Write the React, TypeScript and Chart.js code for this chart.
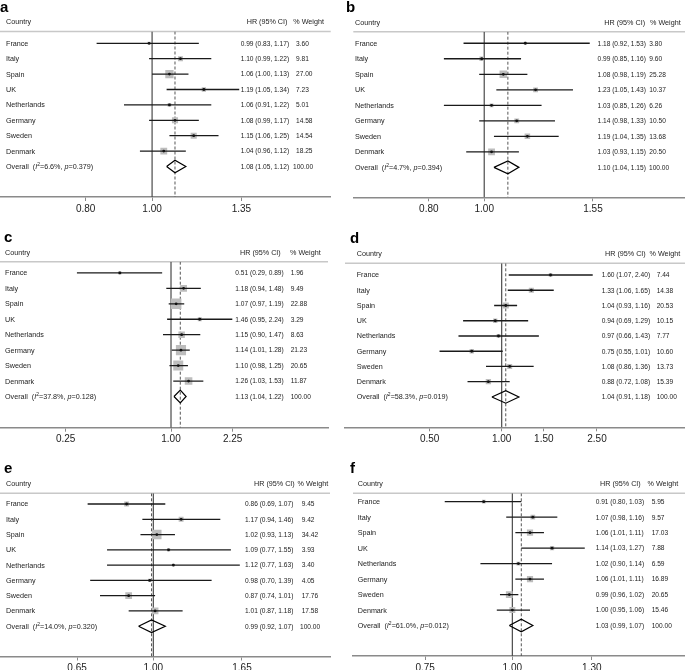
import React, { useEffect, useRef } from "react";
import { Chart, registerables } from "chart.js";

Chart.register(...registerables);

const FONT = "'Liberation Sans', Arial, sans-serif";

const countries = ["France", "Italy", "Spain", "UK", "Netherlands", "Germany", "Sweden", "Denmark"];

// Panel a
const hrA = [0.99, 1.10, 1.06, 1.19, 1.06, 1.08, 1.15, 1.04];
const loA = [0.83, 0.99, 1.00, 1.05, 0.91, 0.99, 1.06, 0.96];
const hiA = [1.17, 1.22, 1.13, 1.34, 1.22, 1.17, 1.25, 1.12];
const wA = [3.60, 9.81, 27.00, 7.23, 5.01, 14.58, 14.54, 18.25];
const overallA = [1.08, 1.05, 1.12];
const hetA = ["6.6%", "0.379"];
const ticksA = [0.80, 1.00, 1.35];

// Panel b
const hrB = [1.18, 0.99, 1.08, 1.23, 1.03, 1.14, 1.19, 1.03];
const loB = [0.92, 0.85, 0.98, 1.05, 0.85, 0.98, 1.04, 0.93];
const hiB = [1.53, 1.16, 1.19, 1.43, 1.26, 1.33, 1.35, 1.15];
const wB = [3.80, 9.60, 25.28, 10.37, 6.26, 10.50, 13.68, 20.50];
const overallB = [1.10, 1.04, 1.15];
const hetB = ["4.7%", "0.394"];
const ticksB = [0.80, 1.00, 1.55];

// Panel c
const hrC = [0.51, 1.18, 1.07, 1.46, 1.15, 1.14, 1.10, 1.26];
const loC = [0.29, 0.94, 0.97, 0.95, 0.90, 1.01, 0.98, 1.03];
const hiC = [0.89, 1.48, 1.19, 2.24, 1.47, 1.28, 1.25, 1.53];
const wC = [1.96, 9.49, 22.88, 3.29, 8.63, 21.23, 20.65, 11.87];
const overallC = [1.13, 1.04, 1.22];
const hetC = ["37.8%", "0.128"];
const ticksC = [0.25, 1.00, 2.25];

// Panel d
const hrD = [1.60, 1.33, 1.04, 0.94, 0.97, 0.75, 1.08, 0.88];
const loD = [1.07, 1.06, 0.93, 0.69, 0.66, 0.55, 0.86, 0.72];
const hiD = [2.40, 1.65, 1.16, 1.29, 1.43, 1.01, 1.36, 1.08];
const wD = [7.44, 14.38, 20.53, 10.15, 7.77, 10.60, 13.73, 15.39];
const overallD = [1.04, 0.91, 1.18];
const hetD = ["58.3%", "0.019"];
const ticksD = [0.50, 1.00, 1.50, 2.50];

// Panel e
const hrE = [0.86, 1.17, 1.02, 1.09, 1.12, 0.98, 0.87, 1.01];
const loE = [0.69, 0.94, 0.93, 0.77, 0.77, 0.70, 0.74, 0.87];
const hiE = [1.07, 1.46, 1.13, 1.55, 1.63, 1.39, 1.01, 1.18];
const wE = [9.45, 9.42, 34.42, 3.93, 3.40, 4.05, 17.76, 17.58];
const overallE = [0.99, 0.92, 1.07];
const hetE = ["14.0%", "0.320"];
const ticksE = [0.65, 1.00, 1.65];

// Panel f
const hrF = [0.91, 1.07, 1.06, 1.14, 1.02, 1.06, 0.99, 1.00];
const loF = [0.80, 0.98, 1.01, 1.03, 0.90, 1.01, 0.96, 0.95];
const hiF = [1.03, 1.16, 1.11, 1.27, 1.14, 1.11, 1.02, 1.06];
const wF = [5.95, 9.57, 17.03, 7.88, 6.59, 16.89, 20.65, 15.46];
const overallF = [1.03, 0.99, 1.07];
const hetF = ["61.0%", "0.012"];
const ticksF = [0.75, 1.00, 1.30];

// Layout (absolute page coordinates) and axis ranges, kept separate from data
// cols: [name x, HR text x, weight x, header HR x, header weight x, overall weight x]
const panels = [
  { letter: "a", hr: hrA, lo: loA, hi: hiA, w: wA, overall: overallA, het: hetA, ticks: ticksA,
    box: [0, 0, 342, 228], area: [0, 330.7, 31.5, 197], xr: [0.640, 1.822], yr: [0.234, 10.98],
    cols: [6, 240.7, 296, 246.7, 293.3, 293], boxScale: 1.6, letterX: 0 },
  { letter: "b", hr: hrB, lo: loB, hi: hiB, w: wB, overall: overallB, het: hetB, ticks: ticksB,
    box: [342, 0, 343, 228], area: [353.3, 685, 31.7, 197.3], xr: [0.590, 2.246], yr: [0.255, 10.93],
    cols: [355, 597.5, 649.3, 604.3, 650, 649], boxScale: 1.5, letterX: 346 },
  { letter: "c", hr: hrC, lo: loC, hi: hiC, w: wC, overall: overallC, het: hetC, ticks: ticksC,
    box: [0, 228, 342, 222], area: [0, 328, 261.7, 427.7], xr: [0.1054, 7.89], yr: [0.275, 11.02],
    cols: [5, 235.3, 290.7, 240, 290, 290.7], boxScale: 2.2, letterX: 4 },
  { letter: "d", hr: hrD, lo: loD, hi: hiD, w: wD, overall: overallD, het: hetD, ticks: ticksD,
    box: [342, 228, 343, 222], area: [345, 685, 263.3, 427.3], xr: [0.2216, 5.83], yr: [0.232, 10.99],
    cols: [356.7, 601.7, 656.7, 605, 649.5, 656.7], boxScale: 1.35, letterX: 350 },
  { letter: "e", hr: hrE, lo: loE, hi: hiE, w: wE, overall: overallE, het: hetE, ticks: ticksE,
    box: [0, 450, 342, 220], area: [0, 330, 493.3, 656.5], xr: [0.4206, 2.713], yr: [0.30, 10.98],
    cols: [6, 245, 301.7, 254, 297.5, 300], boxScale: 1.6, letterX: 4 },
  { letter: "f", hr: hrF, lo: loF, hi: hiF, w: wF, overall: overallF, het: hetF, ticks: ticksF,
    box: [342, 450, 343, 220], area: [353, 685, 493.3, 656], xr: [0.591, 1.768], yr: [0.457, 10.97],
    cols: [357.7, 595.7, 651.7, 600, 647.5, 651.7], boxScale: 1.5, letterX: 350 },
];

const fmt = (v: number) => v.toFixed(2);

function Panel({ p }: { p: any }) {
  const ref = useRef<HTMLCanvasElement | null>(null);

  useEffect(() => {
    if (!ref.current) return;
    const [bx, by, bw, bh] = p.box;
    const [L, R, T, B] = p.area;
    const n = p.hr.length;
    const ovRow = n + 1;
    const [o, ol, oh] = p.overall;
    const dh = 0.41;

    const datasets: any[] = [];
    datasets.push({
      data: [{ x: 1, y: p.yr[0] }, { x: 1, y: p.yr[1] }],
      showLine: true, borderColor: "#4a4a4a", borderWidth: 1.2, pointRadius: 0, order: 6,
    });
    datasets.push({
      data: [{ x: o, y: p.yr[0] }, { x: o, y: p.yr[1] }],
      showLine: true, borderColor: "#555", borderWidth: 1, borderDash: [3, 2], pointRadius: 0, order: 5,
    });
    datasets.push({
      data: p.hr.map((v: number, i: number) => ({ x: v, y: i + 1 })),
      pointStyle: "rect",
      pointRadius: p.w.map((w: number) => (p.boxScale * Math.sqrt(w)) / Math.SQRT2),
      backgroundColor: "#bdbdbd", borderWidth: 0, order: 4,
    });
    for (let i = 0; i < n; i++) {
      datasets.push({
        data: [{ x: p.lo[i], y: i + 1 }, { x: p.hi[i], y: i + 1 }],
        showLine: true, borderColor: "#1a1a1a", borderWidth: 1.3, pointRadius: 0, order: 3,
      });
    }
    datasets.push({
      data: p.hr.map((v: number, i: number) => ({ x: v, y: i + 1 })),
      pointStyle: "circle", pointRadius: 1.4, backgroundColor: "#111", borderWidth: 0, order: 2,
    });
    datasets.push({
      data: [
        { x: ol, y: ovRow }, { x: o, y: ovRow - dh }, { x: oh, y: ovRow },
        { x: o, y: ovRow + dh }, { x: ol, y: ovRow },
      ],
      showLine: true, borderColor: "#000", borderWidth: 1.2, pointRadius: 0, fill: false, order: 1,
    });

    const cols = p.cols.map((c: number) => c - bx);

    const textPlugin = {
      id: "forestText",
      beforeDatasetsDraw(chart: any) {
        const ctx = chart.ctx;
        const a = chart.chartArea;
        ctx.save();
        ctx.strokeStyle = "#c8c8c8";
        ctx.lineWidth = 1.5;
        ctx.beginPath();
        ctx.moveTo(a.left, a.top);
        ctx.lineTo(a.right, a.top);
        ctx.stroke();
        ctx.restore();
      },
      afterDraw(chart: any) {
        const ctx = chart.ctx;
        const a = chart.chartArea;
        const ys = chart.scales.y;
        ctx.save();
        // panel letter
        ctx.fillStyle = "#000";
        ctx.font = `bold 15px ${FONT}`;
        ctx.textBaseline = "alphabetic";
        ctx.textAlign = "left";
        ctx.fillText(p.letter, p.letterX - bx, a.top - 20);

        const base = `7.2px ${FONT}`;
        const num = `6.6px ${FONT}`;
        ctx.font = base;
        ctx.fillStyle = "#222";
        ctx.textBaseline = "middle";
        const hy = a.top - 9;
        ctx.fillText("Country", cols[0], hy);
        ctx.fillText("HR (95% CI)", cols[3], hy);
        ctx.fillText("% Weight", cols[4], hy);

        for (let i = 0; i < n; i++) {
          const y = ys.getPixelForValue(i + 1) + 0.5;
          ctx.font = base;
          ctx.fillText(countries[i], cols[0], y);
          ctx.font = num;
          ctx.fillText(`${fmt(p.hr[i])} (${fmt(p.lo[i])}, ${fmt(p.hi[i])})`, cols[1], y);
          ctx.fillText(fmt(p.w[i]), cols[2], y);
        }
        const y = ys.getPixelForValue(ovRow) + 0.5;
        let x = cols[0];
        const part = (t: string, font: string, dy = 0) => {
          ctx.font = font;
          ctx.fillText(t, x, y + dy);
          x += ctx.measureText(t).width;
        };
        part("Overall  (", base);
        part("I", `italic 7.2px ${FONT}`);
        part("2", `5px ${FONT}`, -2.5);
        part(`=${p.het[0]}, `, base);
        part("p", `italic 7.2px ${FONT}`);
        part(`=${p.het[1]})`, base);
        ctx.font = num;
        ctx.fillText(`${fmt(o)} (${fmt(ol)}, ${fmt(oh)})`, cols[1], y);
        ctx.fillText((100).toFixed(2), cols[5], y);
        ctx.restore();
      },
    };

    const chart = new Chart(ref.current, {
      type: "scatter",
      data: { datasets },
      options: {
        responsive: false,
        animation: false,
        events: [],
        layout: {
          padding: { left: L - bx, right: bx + bw - R, top: T - by, bottom: 0 },
          autoPadding: false,
        },
        plugins: { legend: { display: false }, tooltip: { enabled: false }, title: { display: false } },
        scales: {
          x: {
            type: "logarithmic",
            min: p.xr[0],
            max: p.xr[1],
            afterBuildTicks: (s: any) => {
              s.ticks = p.ticks.map((v: number) => ({ value: v }));
            },
            afterFit: (s: any) => {
              s.height = by + bh - B;
            },
            ticks: {
              callback: (v: any) => Number(v).toFixed(2),
              font: { family: FONT, size: 10 },
              color: "#222",
              padding: 2,
              autoSkip: false,
              maxRotation: 0,
              minRotation: 0,
            },
            grid: { drawOnChartArea: false, drawTicks: true, tickLength: 4, color: "#8a8a8a", lineWidth: 1 },
            border: { display: true, color: "#8a8a8a", width: 1.5 },
          },
          y: { type: "linear", display: false, min: p.yr[0], max: p.yr[1], reverse: true },
        },
      },
      plugins: [textPlugin],
    } as any);
    return () => chart.destroy();
  }, [p]);

  const [bx, by, bw, bh] = p.box;
  return (
    <canvas
      ref={ref}
      width={bw}
      height={bh}
      style={{ position: "absolute", left: bx, top: by, width: bw, height: bh, display: "block" }}
    />
  );
}

export default function App() {
  return (
    <div style={{ position: "absolute", left: 0, top: 0, width: 685, height: 670, background: "#fff", overflow: "hidden" }}>
      {panels.map((p) => (
        <Panel key={p.letter} p={p} />
      ))}
    </div>
  );
}
